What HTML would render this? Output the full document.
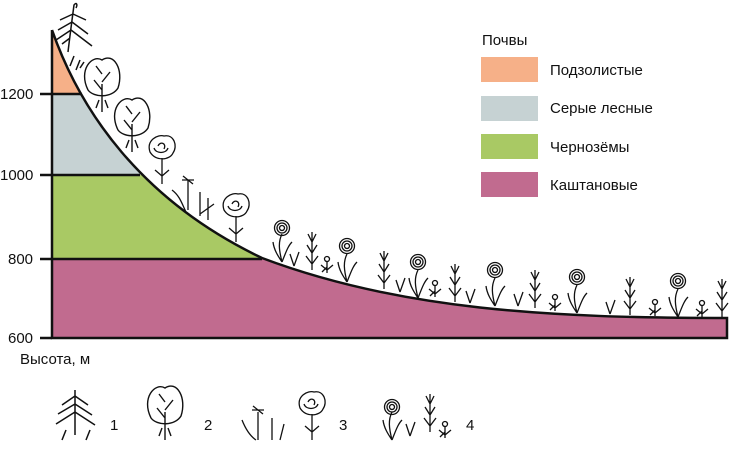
<!DOCTYPE html>
<html><head><meta charset="utf-8"><style>
body{margin:0;background:#fff;width:730px;height:445px;overflow:hidden}
svg text{font-family:"Liberation Sans",sans-serif;font-size:15px;fill:#111}
</style></head><body>
<svg width="730" height="445" viewBox="0 0 730 445" xmlns="http://www.w3.org/2000/svg">
<defs>
<clipPath id="c"><path d="M52,30 C80,110 140,200 262,258 C400,310 550,318 727,318 L727,338 L52,338Z"/></clipPath>
<g id="spiral" fill="none" stroke="#111" stroke-width="1.3"><circle r="7.5"/><circle r="5"/><circle r="2.5"/></g>
<g id="grass" fill="none" stroke="#111" stroke-width="1.3"><path d="M0,0 L0,-38 M0,-6 L-6,-14 M0,-6 L6,-14 M0,-17 L-5,-25 M0,-17 L5,-25 M0,-28 L-4,-36 M0,-28 L4,-36"/></g>
<g id="vv" fill="none" stroke="#111" stroke-width="1.3"><path d="M0,0 L-4,-12 M0,0 L5,-14"/></g>
<g id="sprout" fill="none" stroke="#111" stroke-width="1.3"><path d="M0,0 L0,-12 M0,-3 L-6,-8 M0,-3 L6,-8 M0,-6 L-5,-1"/><circle cx="0" cy="-14" r="2.5" fill="#fff"/></g>
<g id="flw" fill="none" stroke="#111" stroke-width="1.3"><path d="M0,0 C-3,-12 -4,-20 0,-28 M0,0 C4,-10 6,-16 10,-20 M0,0 C-4,-6 -8,-12 -9,-20"/></g>
<g id="tree" fill="none" stroke="#111" stroke-width="1.4"><path d="M0,0 L0,-28 M-14,-22 C-24,-42 -10,-58 0,-52 C12,-60 22,-42 16,-24 C10,-14 -8,-14 -14,-22Z M0,-22 L-8,-32 M0,-30 L8,-40 M0,-38 L-6,-46 M-6,-4 L-3,-12 M6,-4 L3,-12"/></g>
<g id="rose" fill="none" stroke="#111" stroke-width="1.3"><path d="M-12,-32 C-16,-44 -4,-50 2,-48 C12,-50 16,-38 11,-31 C8,-24 -6,-22 -12,-32Z M-4,-38 C-2,-43 5,-41 2,-35 M-8,-36 C-6,-30 4,-30 6,-36 M0,-26 L0,0 M0,-8 L-7,-14 M0,-8 L7,-14"/></g>
</defs>
<g clip-path="url(#c)">
<rect x="52" y="20" width="700" height="74" fill="#f6b088"/>
<rect x="52" y="94" width="700" height="81" fill="#c6d2d3"/>
<rect x="52" y="175" width="700" height="84" fill="#a9c964"/>
<rect x="52" y="259" width="700" height="80" fill="#c16b8f"/>
</g>
<g stroke="#111" stroke-width="2.5" fill="none">
<path d="M52,30 C80,110 140,200 262,258 C400,310 550,318 727,318 L727,338 L52,338 L52,30"/>
<path d="M40,94 L82,94 M40,175 L140,175 M40,259 L262,259 M40,338 L52,338"/>
</g>
<text x="0" y="99">1200</text><text x="0" y="180">1000</text><text x="8" y="264">800</text><text x="8" y="343">600</text>
<text x="482" y="45">Почвы</text>
<rect x="481" y="57" width="57" height="25" fill="#f6b088"/><text x="550" y="75">Подзолистые</text>
<rect x="481" y="96" width="57" height="25" fill="#c6d2d3"/><text x="550" y="113">Серые лесные</text>
<rect x="481" y="134" width="57" height="25" fill="#a9c964"/><text x="550" y="152">Чернозёмы</text>
<rect x="481" y="172" width="57" height="25" fill="#c16b8f"/><text x="550" y="190">Каштановые</text>
<text x="20" y="364">Высота, м</text>
<g stroke="#111" stroke-width="1.5" fill="none">
<path d="M68,52 C70,35 72,20 74,5 C76,2 78,4 76,8 M73,14 L60,20 M73,14 L86,20 M72,22 L58,30 M72,22 L88,34 M71,30 L56,40 M71,30 L92,46 M70,38 L62,44"/>
<path d="M70,66 L74,56 M76,70 L80,60 M80,68 L84,62"/>
</g>
<use href="#tree" x="102" y="112"/><use href="#tree" x="132" y="152"/>
<use href="#rose" x="162" y="184"/>
<g stroke="#111" stroke-width="1.3" fill="none"><path d="M188,210 L188,180 M182,180 L194,180 M183,176 L193,184 M172,190 C180,196 182,204 186,212 M200,216 L200,192 M208,220 L208,198 M200,214 L214,204"/></g>
<use href="#rose" x="236" y="242"/>
<use href="#spiral" x="282" y="228"/><use href="#flw" x="282" y="262"/>
<use href="#vv" x="294" y="266"/>
<use href="#grass" x="312" y="270"/><use href="#sprout" x="327" y="273"/>
<use href="#spiral" x="347" y="246"/><use href="#flw" x="347" y="282"/>
<use href="#grass" x="384" y="289"/><use href="#vv" x="400" y="292"/><use href="#sprout" x="435" y="297"/>
<use href="#spiral" x="418" y="262"/><use href="#flw" x="418" y="298"/>
<use href="#grass" x="455" y="302"/><use href="#vv" x="470" y="303"/>
<use href="#spiral" x="495" y="270"/><use href="#flw" x="495" y="306"/>
<use href="#grass" x="535" y="308"/><use href="#vv" x="518" y="306"/><use href="#sprout" x="555" y="311"/>
<use href="#spiral" x="577" y="277"/><use href="#flw" x="577" y="313"/>
<use href="#grass" x="630" y="315"/><use href="#vv" x="610" y="314"/><use href="#sprout" x="655" y="316"/>
<use href="#spiral" x="678" y="281"/><use href="#flw" x="678" y="317"/>
<use href="#grass" x="722" y="317"/><use href="#sprout" x="702" y="317"/>
<g stroke="#111" stroke-width="1.5" fill="none">
<path d="M75,435 L75,390 M75,396 L62,405 M75,396 L88,405 M75,404 L58,414 M75,404 L92,415 M75,412 L56,424 M75,412 L95,425 M62,440 L66,430 M86,440 L90,430"/>
</g>
<text x="110" y="430">1</text>
<use href="#tree" x="165" y="440"/><text x="204" y="430">2</text>
<g stroke="#111" stroke-width="1.3" fill="none"><path d="M258,440 L258,412 M252,410 L264,410 M253,406 L263,414 M242,420 C246,430 250,436 256,440 M272,440 L272,418 M280,440 L284,424"/></g>
<use href="#rose" x="312" y="440"/><text x="339" y="430">3</text>
<use href="#spiral" x="392" y="407"/><use href="#flw" x="392" y="440"/>
<use href="#grass" x="430" y="432"/><use href="#vv" x="410" y="436"/><use href="#sprout" x="445" y="438"/>
<text x="466" y="430">4</text>
</svg>
</body></html>
